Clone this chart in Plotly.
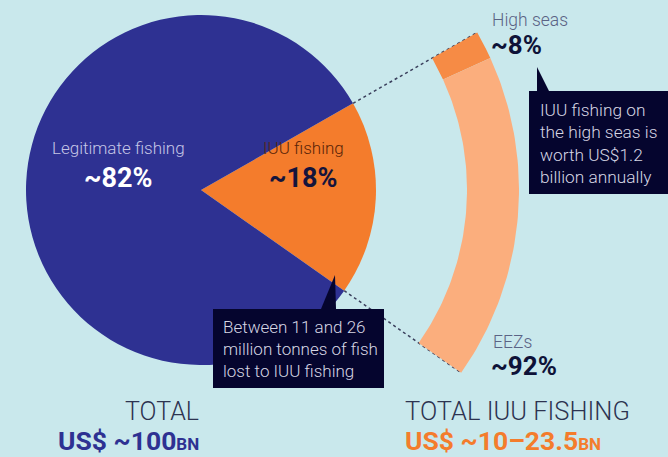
import numpy as np
import plotly.graph_objects as go

# ---------------- data ----------------
share_labels = ["IUU fishing", "Legitimate fishing"]
share_values = [18, 82]
share_text = ["~18%", "~82%"]

iuu_labels = ["High seas", "EEZs"]
iuu_values = [8, 92]
iuu_text = ["~8%", "~92%"]

total_titles = ["TOTAL", "TOTAL IUU FISHING"]
total_amounts = ["US$ ~100", "US$ ~10–23.5"]
total_unit = "BN"

callout_texts = [
    "Between 11 and 26<br>million tonnes of fish<br>lost to IUU fishing",
    "IUU fishing on<br>the high seas is<br>worth US$1.2<br>billion annually",
]

# ---------------- style / layout ----------------
W, H = 668, 457
BG = "#c9e8ec"
BLUE = "#2e3192"
ORANGE = "#f47c2c"
ORANGE_HS = "#f68b45"
ORANGE_LIGHT = "#fbae7d"
NAVY = "#05052e"
FONT = "Roboto"

CX, CY, R = 201, 190, 175
R_IN, R_OUT = 266, 318
START = 29.7  # degrees, counter-clockwise from +x

fig = go.Figure()

# pie
fig.add_trace(go.Pie(
    labels=share_labels, values=share_values, sort=False,
    direction="clockwise", rotation=90 - START,
    marker=dict(colors=[ORANGE, BLUE], line=dict(width=0)),
    textinfo="none", hoverinfo="skip", showlegend=False,
    domain=dict(x=[(CX - R) / W, (CX + R) / W],
                y=[1 - (CY + R) / H, 1 - (CY - R) / H]),
))

iuu_span = 360.0 * share_values[0] / sum(share_values)
end_angle = START - iuu_span


def pt(r, a):
    a = np.radians(a)
    return CX + r * np.cos(a), CY - r * np.sin(a)


# dotted connector lines along the slice edges
for a in (START, end_angle):
    x0, y0 = pt(R, a)
    x1, y1 = pt(R_OUT, a)
    fig.add_trace(go.Scatter(
        x=[x0, x1], y=[y0, y1], mode="lines",
        line=dict(color="#3a3f5c", width=1.5, dash="dot"),
        hoverinfo="skip", showlegend=False))

# exploded arc of IUU fishing
total_iuu = sum(iuu_values)
cum = 0
for lab, v, col in zip(iuu_labels, iuu_values, [ORANGE_HS, ORANGE_LIGHT]):
    a0 = START - iuu_span * cum / total_iuu
    a1 = START - iuu_span * (cum + v) / total_iuu
    cum += v
    ang = np.linspace(a0, a1, 60)
    xo, yo = pt(R_OUT, ang)
    xi, yi = pt(R_IN, ang[::-1])
    fig.add_trace(go.Scatter(
        x=np.concatenate([xo, xi, xo[:1]]), y=np.concatenate([yo, yi, yo[:1]]),
        mode="lines", fill="toself", fillcolor=col, line=dict(width=0, color=col),
        hoverinfo="skip", showlegend=False, name=lab))

shapes = []
# callout boxes
shapes.append(dict(type="rect", x0=213, x1=384, y0=309, y1=388,
                   fillcolor=NAVY, line=dict(width=0), layer="above"))
shapes.append(dict(type="path", path="M 321 309 L 335 275 L 336 309 Z",
                   fillcolor=NAVY, line=dict(width=0), layer="above"))
shapes.append(dict(type="rect", x0=529, x1=670, y0=91, y1=194,
                   fillcolor=NAVY, line=dict(width=0), layer="above"))
shapes.append(dict(type="path", path="M 537 91 L 537 67 L 549 91 Z",
                   fillcolor=NAVY, line=dict(width=0), layer="above"))

ann = []


def add(text, x, y, size, color, weight=300, xanchor="center", align="center"):
    ann.append(dict(text=text, x=x, y=y, xref="x", yref="y", showarrow=False,
                    xanchor=xanchor, yanchor="middle", align=align,
                    font=dict(family=FONT, size=size, color=color, weight=weight)))


add(share_labels[1], 118, 148, 17, "#c5c6e6")
add(share_text[1], 118, 178, 27, "#ffffff", 700)
add(share_labels[0], 303, 148, 17, "#5a2408")
add(share_text[0], 303, 178, 27, "#14143c", 700)

add(iuu_labels[0], 490, 20, 17.5, "#5b6385", xanchor="left")
add(iuu_text[0], 489, 45, 26, "#0e1238", 700, xanchor="left")
add(iuu_labels[1], 491, 342, 17.5, "#5b6385", xanchor="left")
add(iuu_text[1], 489, 366, 26, "#0e1238", 700, xanchor="left")

add(callout_texts[0], 221, 349, 17, "#d6d6e4", xanchor="left", align="left")
add(callout_texts[1], 538, 143, 17.3, "#d6d6e4", xanchor="left", align="left")

add(total_titles[0], 201, 411, 25, "#2d3350", xanchor="right")
add(total_amounts[0] + "<span style='font-size:17px'>" + total_unit + "</span>",
    201, 440, 26.5, BLUE, 700, xanchor="right")
add(total_titles[1], 403, 411, 25.5, "#2d3350", xanchor="left")
add(total_amounts[1] + "<span style='font-size:17px'>" + total_unit + "</span>",
    403, 440, 26.5, ORANGE, 700, xanchor="left")

fig.update_layout(
    width=W, height=H, margin=dict(l=0, r=0, t=0, b=0),
    paper_bgcolor=BG, plot_bgcolor=BG,
    xaxis=dict(range=[0, W], visible=False, fixedrange=True),
    yaxis=dict(range=[H, 0], visible=False, fixedrange=True),
    shapes=shapes, annotations=ann, showlegend=False,
)

fig.write_html("out.html", post_script="document.body.style.margin='0';",
               config={"displayModeBar": False})
